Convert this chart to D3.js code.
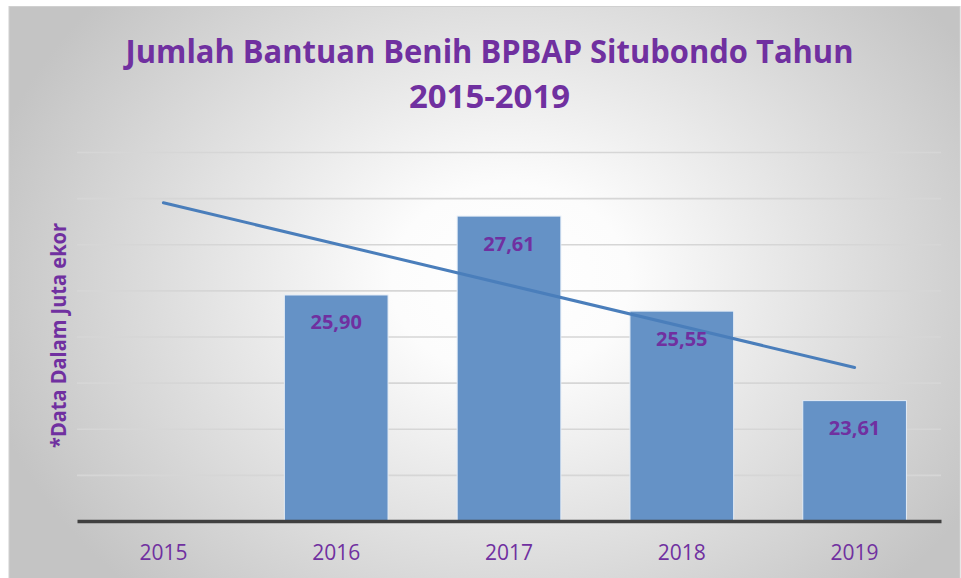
<!DOCTYPE html>
<html>
<head>
<meta charset="utf-8">
<script src="https://cdn.jsdelivr.net/npm/d3@7"></script>
<style>
  html, body { margin: 0; padding: 0; background: #ffffff; }
  svg { display: block; }
</style>
</head>
<body>
<svg id="chart" width="961" height="578"></svg>
<script>
// ---- data ----
const categories = ["2015", "2016", "2017", "2018", "2019"];
const values = [null, 25.90, 27.61, 25.55, 23.61];
const valueLabels = ["", "25,90", "27,61", "25,55", "23,61"];
const yTicks = [21, 22, 23, 24, 25, 26, 27, 28, 29];
const titleLines = ["Jumlah Bantuan Benih BPBAP Situbondo Tahun", "2015-2019"];
const yAxisTitle = "*Data Dalam Juta ekor";

const W = 961, H = 578;
const purple = "#7030a0";
const svg = d3.select("#chart");
const defs = svg.append("defs");

// background radial gradient
const rg = defs.append("radialGradient").attr("id", "bg")
  .attr("gradientUnits", "userSpaceOnUse")
  .attr("cx", 510).attr("cy", 280).attr("r", 540)
  .attr("gradientTransform", "translate(510,280) scale(1,0.8) translate(-510,-280)");
rg.append("stop").attr("offset", "0").attr("stop-color", "#ffffff");
rg.append("stop").attr("offset", "0.22").attr("stop-color", "#fcfcfc");
rg.append("stop").attr("offset", "1").attr("stop-color", "#c4c4c4");

// gridline gradient (lighter at top, darker lower)
const gg = defs.append("linearGradient").attr("id", "gridg")
  .attr("gradientUnits", "userSpaceOnUse")
  .attr("x1", 0).attr("y1", 150).attr("x2", 0).attr("y2", 480);
gg.append("stop").attr("offset", "0").attr("stop-color", "#d6d6d6");
gg.append("stop").attr("offset", "1").attr("stop-color", "#9c9c9c");

svg.append("rect").attr("x", 9).attr("y", 6.5).attr("width", W - 10).attr("height", H - 6)
  .attr("fill", "url(#bg)").attr("stroke", "#d0d0d0").attr("stroke-width", 1);

const plot = { left: 77, right: 941, top: 152, bottom: 521 };

const x = d3.scaleBand().domain(categories).range([plot.left, plot.right]).paddingInner(0.4).paddingOuter(0.2);
const xc = d => x(d) + x.bandwidth() / 2;
const y = d3.scaleLinear().domain([21, 29]).range([plot.bottom, plot.top]);

// gridlines
svg.append("g")
  .attr("transform", `translate(${plot.left},0)`)
  .call(d3.axisLeft(y).tickValues(yTicks.slice(1)).tickSize(-(plot.right - plot.left)).tickFormat(""))
  .call(g => g.select(".domain").remove())
  .call(g => g.selectAll(".tick line").attr("stroke", "url(#gridg)").attr("stroke-width", 1.6));

// bars
const barData = categories.map((c, i) => ({ c, v: values[i], label: valueLabels[i] })).filter(d => d.v != null);
svg.append("g").selectAll("rect").data(barData).join("rect")
  .attr("x", d => x(d.c)).attr("width", x.bandwidth())
  .attr("y", d => y(d.v)).attr("height", d => y(21) - y(d.v))
  .attr("fill", "#6592c6").attr("stroke", "#e4ecf6").attr("stroke-width", 1);

// baseline axis
svg.append("g")
  .attr("transform", `translate(0,${plot.bottom})`)
  .call(d3.axisBottom(x).tickSize(0).tickFormat(""))
  .call(g => g.select(".domain").attr("stroke", "#404040").attr("stroke-width", 3.5));

// x labels
svg.append("g").selectAll("text").data(categories).join("text")
  .attr("x", d => xc(d)).attr("y", 560)
  .attr("text-anchor", "middle")
  .attr("font-family", "'Open Sans', sans-serif").attr("font-size", 21)
  .attr("fill", purple).text(d => d);

// linear trend line (least squares over available points, as Excel trendline)
const pts = values.map((v, i) => ({ i: i + 1, v })).filter(d => d.v != null);
const mx = d3.mean(pts, d => d.i), my = d3.mean(pts, d => d.v);
const slope = d3.sum(pts, d => (d.i - mx) * (d.v - my)) / d3.sum(pts, d => (d.i - mx) ** 2);
const icpt = my - slope * mx;
const trend = [categories[0], categories[categories.length - 1]].map(c => {
  const i = categories.indexOf(c) + 1;
  return { c, v: icpt + slope * i };
});
svg.append("path")
  .datum(trend)
  .attr("d", d3.line().x(d => xc(d.c)).y(d => y(d.v)))
  .attr("fill", "none").attr("stroke", "#4a7ebb").attr("stroke-width", 3).attr("stroke-linecap", "round");

// value labels
svg.append("g").selectAll("text").data(barData).join("text")
  .attr("x", d => xc(d.c)).attr("y", d => y(d.v) + 34.5)
  .attr("text-anchor", "middle")
  .attr("font-family", "'Open Sans', sans-serif").attr("font-weight", "bold").attr("font-size", 20)
  .attr("fill", purple).text(d => d.label);

// title
function fit(sel, target) {
  const n = sel.node();
  const w = n.getComputedTextLength();
  if (w > target) sel.attr("textLength", target).attr("lengthAdjust", "spacingAndGlyphs");
}
const t1 = svg.append("text").attr("x", 489.5).attr("y", 62.5).attr("text-anchor", "middle")
  .attr("font-family", "'Open Sans', sans-serif").attr("font-weight", "bold").attr("font-size", 33)
  .attr("fill", purple).text(titleLines[0]);
fit(t1, 728);
const t2 = svg.append("text").attr("x", 489.5).attr("y", 107.5).attr("text-anchor", "middle")
  .attr("font-family", "'Open Sans', sans-serif").attr("font-weight", "bold").attr("font-size", 33)
  .attr("fill", purple).text(titleLines[1]);
fit(t2, 161);

// y axis title
const yt = svg.append("text").attr("transform", "translate(66,335.5) rotate(-90)")
  .attr("text-anchor", "middle")
  .attr("font-family", "'Open Sans', sans-serif").attr("font-weight", "bold").attr("font-size", 21)
  .attr("fill", purple).text(yAxisTitle);
fit(yt, 225);
</script>
</body>
</html>
